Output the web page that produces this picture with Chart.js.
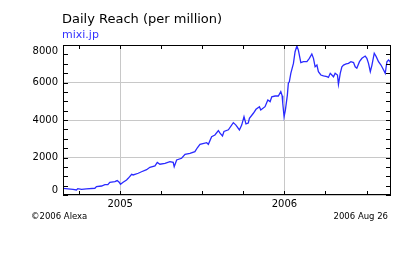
<!DOCTYPE html>
<html>
<head>
<meta charset="utf-8">
<script src="https://cdn.jsdelivr.net/npm/chart.js@4/dist/chart.umd.min.js"></script>
<style>
body{margin:0;background:#fff;}
canvas{display:block;}
</style>
</head>
<body>
<canvas id="myChart" width="419" height="259"></canvas>
<script>
// fractional year of each reading
const years = [
  2004.652, 2004.713, 2004.734, 2004.742, 2004.765, 2004.795, 2004.846, 2004.856, 2004.887, 2004.907,
  2004.925, 2004.937, 2004.968, 2004.982, 2004.994, 2005.002, 2005.018, 2005.039, 2005.049, 2005.070,
  2005.079, 2005.110, 2005.130, 2005.161, 2005.181, 2005.212, 2005.226, 2005.242, 2005.273, 2005.303,
  2005.323, 2005.329, 2005.344, 2005.374, 2005.395, 2005.425, 2005.455, 2005.470, 2005.486, 2005.527,
  2005.537, 2005.557, 2005.577, 2005.598, 2005.608, 2005.623, 2005.632, 2005.659, 2005.689, 2005.705,
  2005.726, 2005.740, 2005.754, 2005.766, 2005.780, 2005.787, 2005.811, 2005.827, 2005.848, 2005.856,
  2005.882, 2005.899, 2005.913, 2005.923, 2005.943, 2005.963, 2005.978, 2005.986, 2005.990, 2005.998,
  2006.006, 2006.018, 2006.024, 2006.030, 2006.039, 2006.055, 2006.065, 2006.076, 2006.085, 2006.100,
  2006.116, 2006.137, 2006.152, 2006.167, 2006.177, 2006.187, 2006.198, 2006.207, 2006.222, 2006.238,
  2006.259, 2006.268, 2006.279, 2006.289, 2006.299, 2006.309, 2006.323, 2006.329, 2006.340, 2006.350,
  2006.360, 2006.376, 2006.390, 2006.405, 2006.421, 2006.431, 2006.441, 2006.457, 2006.472, 2006.492,
  2006.502, 2006.512, 2006.523, 2006.533, 2006.547, 2006.559, 2006.573, 2006.588, 2006.604, 2006.614,
  2006.624, 2006.634, 2006.645, 2006.649
];
// daily reach per million
const reach = [
  350, 300, 270, 340, 300, 330, 360, 450, 480, 550,
  550, 680, 710, 770, 680, 570, 680, 800, 890, 1100,
  1070, 1160, 1240, 1350, 1480, 1550, 1740, 1640, 1690, 1780,
  1740, 1510, 1870, 1960, 2170, 2220, 2310, 2520, 2700, 2790,
  2700, 3110, 3200, 3430, 3300, 3150, 3390, 3480, 3860, 3730,
  3470, 3730, 4180, 3790, 3840, 4090, 4360, 4570, 4710, 4530,
  4710, 5070, 4980, 5240, 5280, 5280, 5510, 5300, 4890, 4180,
  4530, 5330, 5960, 6040, 6490, 7020, 7640, 7950, 7730, 7060,
  7110, 7110, 7290, 7520, 7290, 6840, 6930, 6580, 6400, 6350,
  6310, 6270, 6490, 6400, 6300, 6490, 6400, 5900, 6490, 6840,
  6930, 6990, 7020, 7110, 7060, 6840, 6760, 7110, 7290, 7410,
  7290, 7020, 6580, 6930, 7560, 7380, 7110, 6930, 6670, 6490,
  7110, 7200, 7110, 6490
];
const yLabels = [0, 2000, 4000, 6000, 8000];
const xLabels = [2005, 2006];
const xMin = 2004.652, xMax = 2006.649;

const font = '"DejaVu Sans", Verdana, sans-serif';

const alexaPlugin = {
  id: 'alexa',
  afterDraw: (chart) => {
    const ctx = chart.ctx;
    const a = chart.chartArea;
    const xs = chart.scales.x, ys = chart.scales.y;
    ctx.save();
    // frame
    ctx.strokeStyle = '#000';
    ctx.lineWidth = 1;
    ctx.strokeRect(Math.round(a.left) + 0.5, Math.round(a.top) + 0.5,
      Math.round(a.right - a.left) - 1, Math.round(a.bottom - a.top) - 1);
    // inward ticks
    ctx.beginPath();
    ys.ticks.forEach((t) => {
      const y = Math.round(ys.getPixelForValue(t.value)) + 0.5;
      ctx.moveTo(a.left, y); ctx.lineTo(a.left + 5, y);
      ctx.moveTo(a.right, y); ctx.lineTo(a.right - 5, y);
    });
    xs.ticks.forEach((t) => {
      const x = Math.round(xs.getPixelForValue(t.value)) + 0.5;
      ctx.moveTo(x, a.bottom); ctx.lineTo(x, a.bottom - 4);
      ctx.moveTo(x, a.top); ctx.lineTo(x, a.top + 4);
    });
    ctx.stroke();
    // y labels
    ctx.fillStyle = '#000';
    ctx.font = '10px ' + font;
    ctx.textAlign = 'right';
    ctx.textBaseline = 'middle';
    yLabels.forEach((v) => {
      let y = ys.getPixelForValue(v);
      y = Math.min(Math.max(y, a.top + 6), a.bottom - 5);
      ctx.fillText(String(v), 58, y);
    });
    // x labels
    ctx.textAlign = 'center';
    xLabels.forEach((v) => {
      ctx.fillText(String(v), xs.getPixelForValue(v), 204);
    });
    // title & site
    ctx.textAlign = 'left';
    ctx.textBaseline = 'alphabetic';
    ctx.font = '13px ' + font;
    ctx.fillText('Daily Reach (per million)', 62, 23);
    ctx.fillStyle = '#3333ff';
    ctx.font = '11px ' + font;
    ctx.fillText('mixi.jp', 62, 38);
    // footer
    ctx.fillStyle = '#000';
    ctx.font = '8.5px ' + font;
    ctx.textBaseline = 'middle';
    ctx.fillText('\u00a92006 Alexa', 31, 217);
    ctx.textAlign = 'right';
    ctx.fillText('2006 Aug 26', 388, 217);
    ctx.restore();
  }
};

const renderChart = () => {
  var ctx = document.getElementById('myChart').getContext('2d');
  var points = years.map((yr, i) => ({x: yr, y: reach[i]}));
  var myChart = new Chart(ctx, {
    type: 'line',
    data: {
      datasets: [{
        label: 'mixi.jp',
        data: points,
        borderColor: '#2a2aff',
        borderWidth: 1.3,
        pointRadius: 0,
        tension: 0,
        fill: false
      }]
    },
    options: {
      responsive: false,
      devicePixelRatio: 1,
      animation: false,
      layout: {padding: {left: 63, right: 28, top: 45, bottom: 64}},
      plugins: {legend: {display: false}, tooltip: {enabled: false}},
      scales: {
        x: {
          type: 'linear',
          min: xMin,
          max: xMax,
          ticks: {display: false, stepSize: 0.25, includeBounds: false},
          grid: {
            drawTicks: false,
            color: (c) => (c.tick && Math.abs(c.tick.value - Math.round(c.tick.value)) < 0.001) ? '#c8c8c8' : 'rgba(0,0,0,0)'
          },
          border: {display: false}
        },
        y: {
          min: 0,
          max: 8000,
          ticks: {display: false, stepSize: 500},
          grid: {
            drawTicks: false,
            color: (c) => (c.tick && c.tick.value % 2000 === 0) ? '#c8c8c8' : 'rgba(0,0,0,0)'
          },
          border: {display: false}
        }
      }
    },
    plugins: [alexaPlugin]
  });
};
renderChart();
</script>
</body>
</html>
